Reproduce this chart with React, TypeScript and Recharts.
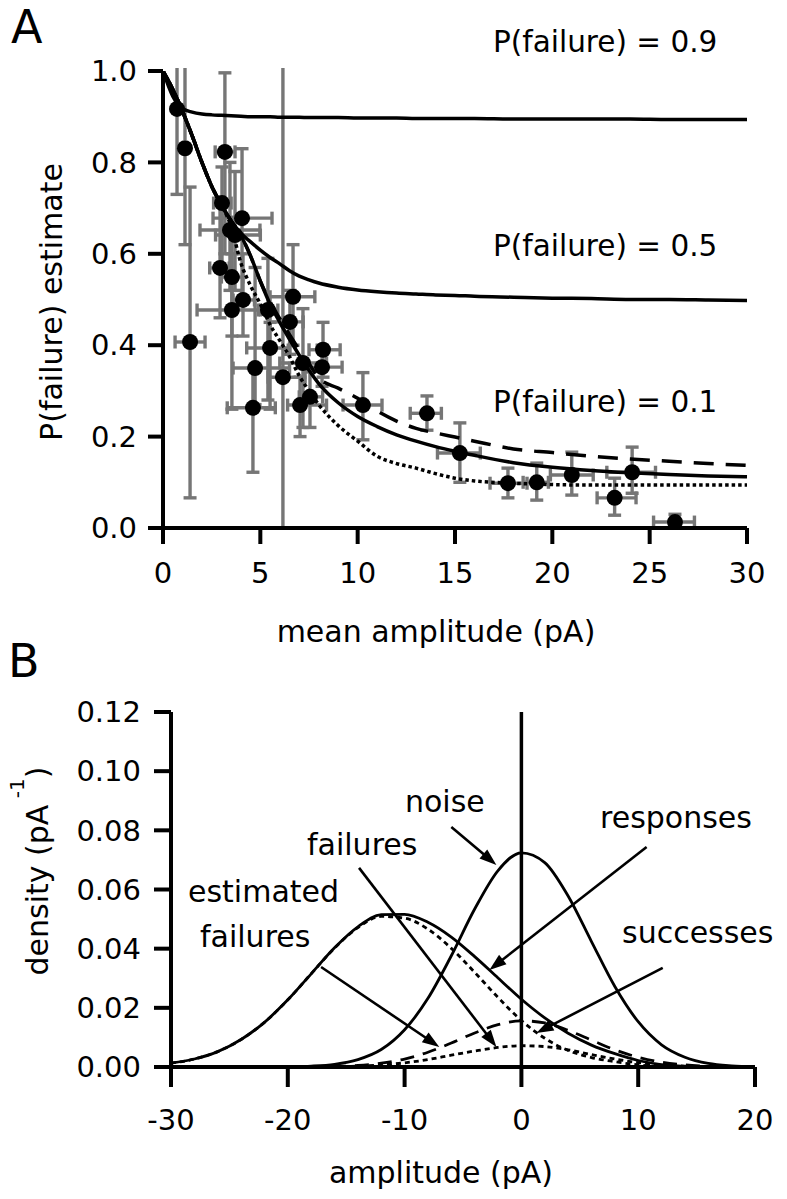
import React from 'react';
import { ComposedChart, Line, Scatter, XAxis, YAxis, ErrorBar, ReferenceLine } from 'recharts';

const FONT = 'DejaVu Sans';

// ---------- Panel A data ----------
const xTicksA = [0, 5, 10, 15, 20, 25, 30];
const yTicksA = [0, 0.2, 0.4, 0.6, 0.8, 1.0];

// measured points (mean amplitude, P(failure) estimate) with error extents
const ptX = [0.72, 1.13, 3.18, 3.03, 4.06, 3.44, 3.7, 2.93, 3.54, 3.54, 4.11, 5.39, 6.68, 6.52, 5.5, 4.73, 6.16, 7.19, 8.22, 8.17, 4.62, 7.04, 7.55, 10.27, 1.39, 13.56, 15.25, 17.72, 19.2, 21.0, 24.1, 23.2, 26.3];
const ptY = [0.917, 0.831, 0.823, 0.711, 0.678, 0.652, 0.641, 0.569, 0.549, 0.477, 0.499, 0.477, 0.506, 0.451, 0.394, 0.35, 0.33, 0.361, 0.39, 0.352, 0.263, 0.269, 0.287, 0.269, 0.407, 0.251, 0.164, 0.098, 0.1, 0.116, 0.122, 0.066, 0.013];
const ptXLo = [0.72, 1.13, 2.68, 2.6, 2.57, 1.9, 2.7, 2.4, 3.0, 1.75, 3.6, 4.9, 5.5, 5.5, 4.3, 3.6, 5.4, 6.0, 7.5, 7.4, 3.3, 6.4, 7.0, 9.25, 0.62, 12.7, 14.1, 16.8, 18.5, 19.9, 22.8, 22.3, 25.2];
const ptXHi = [0.72, 1.13, 3.7, 3.5, 5.6, 4.98, 5.0, 3.4, 4.1, 5.0, 4.7, 5.9, 7.8, 7.2, 6.5, 6.5, 7.3, 8.4, 9.1, 9.2, 5.77, 8.4, 8.2, 11.25, 2.16, 14.3, 16.3, 18.7, 19.8, 22.1, 25.3, 24.3, 27.3];
const ptYLo = [0.73, 0.62, 0.6, 0.56, 0.5, 0.52, 0.52, 0.46, 0.42, 0.26, 0.42, 0.28, 0.4, 0.38, 0.26, 0.27, 0.0, 0.22, 0.33, 0.31, 0.122, 0.2, 0.22, 0.193, 0.066, 0.214, 0.1, 0.066, 0.061, 0.072, 0.076, 0.028, 0.0];
const ptYHi = [1.03, 1.03, 0.996, 0.79, 0.83, 0.8, 0.78, 0.72, 0.68, 0.6, 0.6, 0.59, 0.62, 0.52, 0.45, 0.57, 1.03, 0.48, 0.45, 0.4, 0.35, 0.33, 0.35, 0.34, 0.746, 0.289, 0.23, 0.131, 0.142, 0.166, 0.177, 0.109, 0.03];

// model curves
const curveX = [0, 0.5, 1, 1.5, 2, 2.5, 3, 3.5, 4, 4.5, 5, 5.5, 6, 6.5, 7, 7.5, 8, 9, 10, 11, 12, 13, 14, 15, 16, 18, 20, 22, 24, 26, 28, 30];
const pf09 = [1.0, 0.945, 0.918, 0.91, 0.906, 0.904, 0.903, 0.902, 0.901, 0.9, 0.9, 0.9, 0.899, 0.899, 0.899, 0.898, 0.898, 0.898, 0.897, 0.897, 0.897, 0.896, 0.896, 0.896, 0.896, 0.895, 0.895, 0.895, 0.895, 0.894, 0.894, 0.894];
const pf05 = [1.0, 0.96, 0.912, 0.858, 0.8, 0.748, 0.707, 0.672, 0.645, 0.626, 0.608, 0.592, 0.578, 0.563, 0.551, 0.543, 0.536, 0.527, 0.521, 0.517, 0.514, 0.512, 0.51, 0.509, 0.507, 0.505, 0.503, 0.502, 0.5, 0.5, 0.499, 0.498];
const pf01 = [1.0, 0.96, 0.912, 0.858, 0.8, 0.748, 0.707, 0.672, 0.64, 0.595, 0.54, 0.49, 0.45, 0.413, 0.378, 0.345, 0.316, 0.274, 0.244, 0.222, 0.204, 0.19, 0.178, 0.168, 0.159, 0.143, 0.133, 0.126, 0.121, 0.117, 0.114, 0.112];
const pfDashed = [1.0, 0.96, 0.912, 0.858, 0.8, 0.748, 0.707, 0.672, 0.64, 0.595, 0.54, 0.495, 0.458, 0.423, 0.39, 0.36, 0.328, 0.306, 0.284, 0.256, 0.234, 0.218, 0.208, 0.199, 0.19, 0.173, 0.165, 0.157, 0.151, 0.146, 0.141, 0.137];
const pfDotted = [1.0, 0.96, 0.912, 0.858, 0.8, 0.748, 0.707, 0.66, 0.58, 0.53, 0.49, 0.445, 0.41, 0.375, 0.333, 0.3, 0.27, 0.224, 0.19, 0.157, 0.141, 0.131, 0.119, 0.109, 0.103, 0.098, 0.095, 0.094, 0.094, 0.094, 0.094, 0.094];

// ---------- Panel B data ----------
const xTicksB = [-30, -20, -10, 0, 10, 20];
const yTicksB = [0, 0.02, 0.04, 0.06, 0.08, 0.1, 0.12];
const ampX = [-30, -28, -26, -24, -22, -20, -18, -16, -14, -12, -10, -8, -6, -4, -2, 0, 2, 4, 6, 8, 10, 12, 14, 16, 18, 20];
const noise = [0, 0, 0, 0, 0, 0.0001, 0.0003, 0.0009, 0.0025, 0.0059, 0.0126, 0.0232, 0.0376, 0.0534, 0.0664, 0.0724, 0.0691, 0.0578, 0.0424, 0.0272, 0.0153, 0.0075, 0.0033, 0.0012, 0.0004, 0.0001];
const responses = [0.0013, 0.0027, 0.0052, 0.0093, 0.0151, 0.0227, 0.0315, 0.0403, 0.0474, 0.0515, 0.0516, 0.0489, 0.0439, 0.0373, 0.0301, 0.0229, 0.0166, 0.0114, 0.0074, 0.0045, 0.0022, 0.0008, 0.0002, 0, 0, 0];
const successes = [0.0013, 0.0027, 0.0052, 0.0093, 0.0151, 0.0227, 0.0315, 0.0402, 0.0471, 0.0509, 0.0503, 0.0466, 0.0401, 0.032, 0.0235, 0.0157, 0.0097, 0.0056, 0.0032, 0.0018, 0.0007, 0.0001, 0, 0, 0, 0];
const failures = [0, 0, 0, 0, 0, 0, 0, 0.0001, 0.0003, 0.0007, 0.0014, 0.0025, 0.004, 0.0054, 0.0066, 0.0072, 0.0069, 0.0058, 0.0042, 0.0027, 0.0015, 0.0008, 0.0003, 0.0001, 0, 0];
const estFailures = [0, 0, 0, 0, 0, 0, 0.0001, 0.0002, 0.0005, 0.0013, 0.0027, 0.005, 0.0081, 0.0115, 0.0143, 0.0156, 0.0149, 0.0124, 0.0091, 0.0058, 0.0033, 0.0016, 0.0007, 0.0003, 0.0001, 0];

// ---------- built tables ----------
const Y_TOP_A = 1.0;
const DOT_R = 8;
const pointData = ptX.map((x, i) => ({
  x,
  y: ptY[i],
  ex: [x - ptXLo[i], ptXHi[i] - x],
  ey: [ptY[i] - ptYLo[i], ptYHi[i] > Y_TOP_A ? 0 : ptYHi[i] - ptY[i]],
}));
// error bars running off the top of the frame are drawn without a cap, up to the frame edge
const clippedBars = ptX
  .map((x, i) => ({ x, y: ptY[i], hi: ptYHi[i] }))
  .filter((d) => d.hi > Y_TOP_A);
const mk = (xs: number[], ys: number[]) => xs.map((x, i) => ({ x, y: ys[i] }));

const GRAY = '#767676';
const BAR_W = 3.4;
const axisStyle = { stroke: '#000', strokeWidth: 4 };
const tickStyle = { fill: '#000', fontSize: 29, fontFamily: FONT };

const Dot = (p: any) => <circle cx={p.cx} cy={p.cy} r={DOT_R} fill="#000" />;

const GrayBar = (p: any) => {
  const { x1, y1, x2, y2 } = p;
  return <line x1={x1} y1={y1 - DOT_R} x2={x2} y2={y2 - 3} stroke={GRAY} strokeWidth={BAR_W} />;
};

const Arrow = (p: any) => {
  const { x1, y1, x2, y2 } = p;
  const dx = x2 - x1;
  const dy = y2 - y1;
  const len = Math.sqrt(dx * dx + dy * dy) || 1;
  const ux = dx / len;
  const uy = dy / len;
  const hl = 17;
  const hw = 6;
  const bx = x2 - ux * hl;
  const by = y2 - uy * hl;
  const px = -uy;
  const py = ux;
  return (
    <g>
      <line x1={x1} y1={y1} x2={bx + ux * 2} y2={by + uy * 2} stroke="#000" strokeWidth={2.6} />
      <polygon points={`${x2},${y2} ${bx + px * hw},${by + py * hw} ${bx - px * hw},${by - py * hw}`} fill="#000" />
    </g>
  );
};

const arrows = [
  { from: { x: -6.0, y: 0.0811 }, to: { x: -2.14, y: 0.0683 } },
  { from: { x: 10.72, y: 0.0744 }, to: { x: -2.74, y: 0.0328 } },
  { from: { x: -13.9, y: 0.0673 }, to: { x: -2.14, y: 0.0068 } },
  { from: { x: -17.15, y: 0.0338 }, to: { x: -7.03, y: 0.0068 } },
  { from: { x: 12.1, y: 0.0335 }, to: { x: 1.29, y: 0.0115 } },
];

const txt = { fontFamily: FONT, fill: '#000' } as const;

export default function App() {
  return (
    <div style={{ position: 'absolute', left: 0, top: 0, width: 787, height: 1199, background: '#fff' }}>
      <div style={{ position: 'absolute', left: 0, top: 0 }}>
        <ComposedChart width={787} height={650} margin={{ top: 71, right: 40, bottom: 92, left: 103 }}>
          <XAxis
            type="number"
            dataKey="x"
            domain={[0, 30]}
            ticks={xTicksA}
            height={30}
            tickSize={16}
            tickMargin={18}
            axisLine={axisStyle}
            tickLine={axisStyle}
            tick={tickStyle}
          />
          <YAxis
            type="number"
            dataKey="y"
            domain={[0, Y_TOP_A]}
            ticks={yTicksA}
            tickFormatter={(v: number) => v.toFixed(1)}
            width={60}
            tickSize={15}
            tickMargin={11}
            axisLine={axisStyle}
            tickLine={axisStyle}
            tick={tickStyle}
            allowDataOverflow
          />
          {clippedBars.map((d, i) => (
            <ReferenceLine
              key={`cb${i}`}
              segment={[{ x: d.x, y: d.y }, { x: d.x, y: Y_TOP_A }]}
              shape={GrayBar}
              ifOverflow="visible"
            />
          ))}
          <Scatter data={pointData} dataKey="y" shape={Dot} isAnimationActive={false}>
            <ErrorBar dataKey="ey" direction="y" width={6.5} stroke={GRAY} strokeWidth={BAR_W} isAnimationActive={false} />
            <ErrorBar dataKey="ex" direction="x" width={6.5} stroke={GRAY} strokeWidth={BAR_W} isAnimationActive={false} />
          </Scatter>
          <Line data={mk(curveX, pfDotted)} dataKey="y" type="monotone" stroke="#000" strokeWidth={3.5} strokeDasharray="3.5 3" dot={false} isAnimationActive={false} />
          <Line data={mk(curveX, pfDashed)} dataKey="y" type="monotone" stroke="#000" strokeWidth={3.5} strokeDasharray="20 12" dot={false} isAnimationActive={false} />
          <Line data={mk(curveX, pf01)} dataKey="y" type="monotone" stroke="#000" strokeWidth={3.5} dot={false} isAnimationActive={false} />
          <Line data={mk(curveX, pf05)} dataKey="y" type="monotone" stroke="#000" strokeWidth={3.5} dot={false} isAnimationActive={false} />
          <Line data={mk(curveX, pf09)} dataKey="y" type="monotone" stroke="#000" strokeWidth={3.5} dot={false} isAnimationActive={false} />
        </ComposedChart>
      </div>

      <div style={{ position: 'absolute', left: 0, top: 660 }}>
        <ComposedChart width={787} height={539} margin={{ top: 52, right: 32, bottom: 102, left: 111 }}>
          <XAxis
            type="number"
            dataKey="x"
            domain={[-30, 20]}
            ticks={xTicksB}
            height={30}
            tickSize={20}
            tickMargin={22}
            axisLine={axisStyle}
            tickLine={axisStyle}
            tick={tickStyle}
          />
          <YAxis
            type="number"
            dataKey="y"
            domain={[0, 0.12]}
            ticks={yTicksB}
            tickFormatter={(v: number) => v.toFixed(2)}
            width={60}
            tickSize={17}
            tickMargin={13}
            axisLine={axisStyle}
            tickLine={axisStyle}
            tick={tickStyle}
          />
          <ReferenceLine x={0} stroke="#000" strokeWidth={3.5} ifOverflow="visible" />
          <Line data={mk(ampX, estFailures)} dataKey="y" type="monotone" stroke="#000" strokeWidth={2.8} strokeDasharray="14 9" dot={false} isAnimationActive={false} />
          <Line data={mk(ampX, failures)} dataKey="y" type="monotone" stroke="#000" strokeWidth={2.8} strokeDasharray="5 4" dot={false} isAnimationActive={false} />
          <Line data={mk(ampX, successes)} dataKey="y" type="monotone" stroke="#000" strokeWidth={2.8} strokeDasharray="5 4" dot={false} isAnimationActive={false} />
          <Line data={mk(ampX, responses)} dataKey="y" type="monotone" stroke="#000" strokeWidth={2.8} dot={false} isAnimationActive={false} />
          <Line data={mk(ampX, noise)} dataKey="y" type="monotone" stroke="#000" strokeWidth={2.8} dot={false} isAnimationActive={false} />
          {arrows.map((a, i) => (
            <ReferenceLine key={i} segment={[a.from, a.to]} shape={Arrow} ifOverflow="visible" />
          ))}
        </ComposedChart>
      </div>

      <svg width={787} height={1199} style={{ position: 'absolute', left: 0, top: 0, pointerEvents: 'none' }}>
        <text x={11} y={43} fontSize={46} {...txt}>A</text>
        <text x={493} y={52} fontSize={29.5} {...txt}>P(failure) = 0.9</text>
        <text x={493} y={256} fontSize={29.5} {...txt}>P(failure) = 0.5</text>
        <text x={493} y={412} fontSize={29.5} {...txt}>P(failure) = 0.1</text>
        <text x={62} y={302} fontSize={30} textAnchor="middle" transform="rotate(-90, 62, 302)" {...txt}>P(failure) estimate</text>
        <text x={436} y={642} fontSize={30} textAnchor="middle" {...txt}>mean amplitude (pA)</text>

        <text x={8} y={677} fontSize={46} {...txt}>B</text>
        <text x={405} y={812} fontSize={30} {...txt}>noise</text>
        <text x={600} y={828} fontSize={30} {...txt}>responses</text>
        <text x={307} y={855} fontSize={30} {...txt}>failures</text>
        <text x={188} y={902} fontSize={30} {...txt}>estimated</text>
        <text x={200} y={947} fontSize={30} {...txt}>failures</text>
        <text x={622} y={943} fontSize={30} {...txt}>successes</text>
        <text x={48} y={871} fontSize={30} textAnchor="middle" transform="rotate(-90, 48, 871)" {...txt}>
          density (pA
          <tspan fontSize={20} dy={-24}> -1</tspan>
          <tspan dy={24}>)</tspan>
        </text>
        <text x={441} y={1183} fontSize={30} textAnchor="middle" {...txt}>amplitude (pA)</text>
      </svg>
    </div>
  );
}
